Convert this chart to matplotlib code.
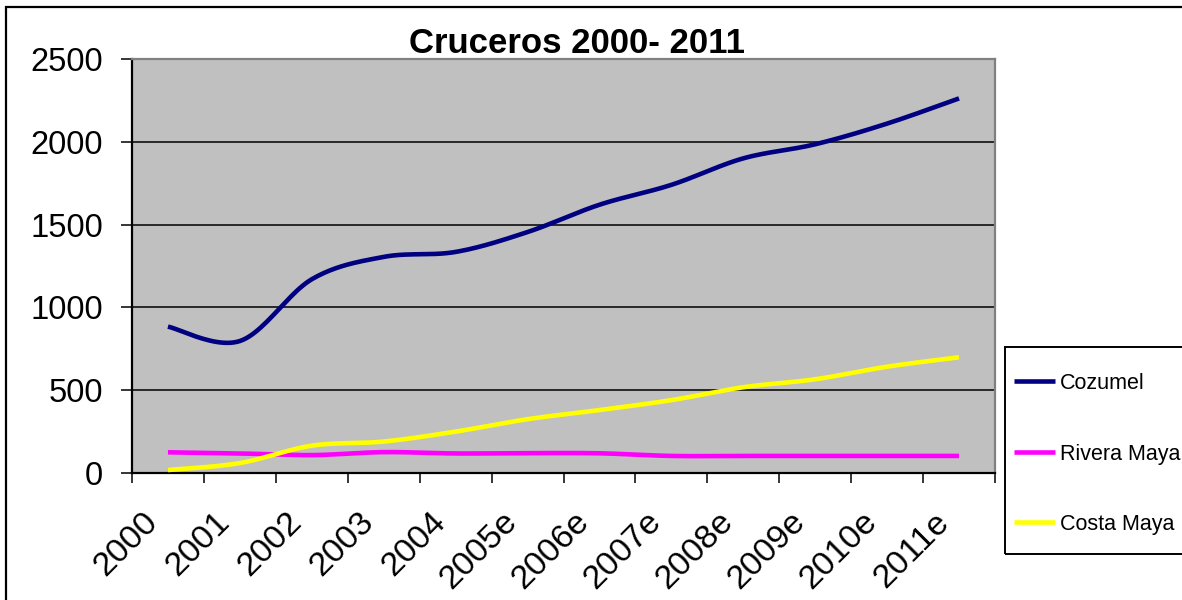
import numpy as np
import matplotlib
matplotlib.use("Agg")
import matplotlib.pyplot as plt
from matplotlib.patches import Rectangle
from matplotlib.transforms import ScaledTranslation

# ---- data ----
years = ['2000', '2001', '2002', '2003', '2004', '2005e', '2006e',
         '2007e', '2008e', '2009e', '2010e', '2011e']
cozumel = [884, 797, 1170, 1305, 1335, 1455, 1620, 1740, 1900, 1985, 2110, 2262]
rivera_maya = [125, 118, 108, 126, 118, 120, 119, 103, 103, 103, 103, 103]
costa_maya = [18, 60, 165, 190, 250, 325, 380, 440, 518, 566, 642, 699]
series_names = ['Cozumel', 'Rivera Maya', 'Costa Maya']
series_colors = ['#000080', '#FF00FF', '#FFFF00']
yticks = [0, 500, 1000, 1500, 2000, 2500]

plt.rcParams['font.family'] = ['Liberation Sans', 'DejaVu Sans']

W, H = 1182, 600
fig = plt.figure(figsize=(W / 100, H / 100), dpi=100)
fig.patch.set_facecolor('white')

# plot area in pixels
x0, x1, ytop, ybot = 132, 995, 59, 473
ax = fig.add_axes([x0 / W, 1 - ybot / H, (x1 - x0) / W, (ybot - ytop) / H])
ax.set_facecolor('#C0C0C0')


def smooth(xs, ys, n=24):
    """Catmull-Rom smoothing (like a spreadsheet 'smoothed line')."""
    p = np.column_stack([xs, ys]).astype(float)
    p = np.vstack([p[0], p, p[-1]])
    out = []
    t = np.linspace(0, 1, n, endpoint=False)[:, None]
    for i in range(1, len(p) - 2):
        P0, P1, P2, P3 = p[i - 1], p[i], p[i + 1], p[i + 2]
        seg = 0.5 * (2 * P1 + (-P0 + P2) * t + (2 * P0 - 5 * P1 + 4 * P2 - P3) * t ** 2
                     + (-P0 + 3 * P1 - 3 * P2 + P3) * t ** 3)
        out.append(seg)
    out.append(p[-2][None, :])
    out = np.vstack(out)
    return out[:, 0], out[:, 1]


xidx = np.arange(len(years))
for vals, col, name in zip([cozumel, rivera_maya, costa_maya], series_colors, series_names):
    sx, sy = smooth(xidx, vals)
    ax.plot(sx, sy, color=col, lw=3.3, solid_capstyle='butt', label=name, zorder=3)

ax.set_xlim(-0.5, len(years) - 0.5)
ax.set_ylim(0, 2500)
ax.set_yticks(yticks)
ax.set_yticklabels([str(v) for v in yticks], fontsize=23.5)
ax.grid(axis='y', color='black', lw=1.1)
ax.set_axisbelow(True)

# x ticks: major at category boundaries, labels on minor at centers
ax.set_xticks(np.arange(-0.5, len(years), 1.0))
ax.set_xticklabels([])
ax.set_xticks(xidx, minor=True)
ax.set_xticklabels(years, minor=True, fontsize=24.5)
ax.tick_params(axis='x', which='major', direction='out', length=7.5, width=1.1, color='black')
ax.tick_params(axis='x', which='minor', length=0, pad=24)
ax.tick_params(axis='y', direction='out', length=8, width=1.1, pad=13, color='black')
off = ScaledTranslation(-26 / 100, 0, fig.dpi_scale_trans)
for lab in ax.get_xticklabels(minor=True):
    lab.set_rotation(45)
    lab.set_ha('right')
    lab.set_va('top')
    lab.set_rotation_mode('anchor')
    lab.set_transform(lab.get_transform() + off)

for s in ['left', 'bottom']:
    ax.spines[s].set_color('black')
    ax.spines[s].set_linewidth(1.6)
for s in ['top', 'right']:
    ax.spines[s].set_color('#808080')
    ax.spines[s].set_linewidth(1.6)

# title
fig.text(577 / W, 1 - 53 / H, 'Cruceros 2000- 2011', ha='center', va='baseline',
         fontsize=25, fontweight='bold')

# legend
leg = ax.legend(loc='upper left', bbox_to_anchor=(1014 / W, 1 - 373 / H),
                bbox_transform=fig.transFigure, frameon=False, fontsize=15.5,
                handlelength=1.9, handletextpad=0.25, labelspacing=2.3,
                borderpad=0, borderaxespad=0)
fig.add_artist(Rectangle((1005 / W, 1 - 554 / H), 0.2, (554 - 347) / H,
                         transform=fig.transFigure, fill=False, ec='black', lw=1.4))

# outer chart border
fig.add_artist(Rectangle((6 / W, -0.1), 1.2, 1 - 7 / H + 0.1, transform=fig.transFigure,
                         fill=False, ec='black', lw=1.6))

fig.savefig('out.png', dpi=100, facecolor='white')
